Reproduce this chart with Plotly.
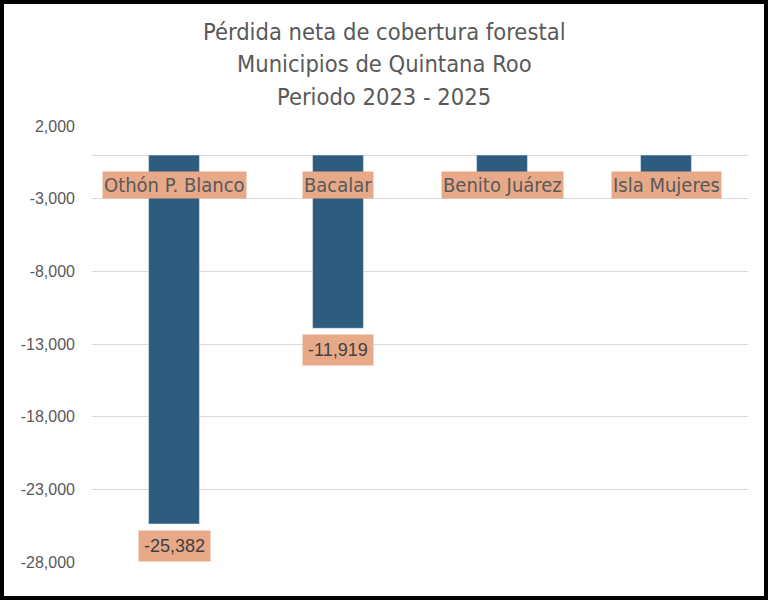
import plotly.graph_objects as go

categories = ["Othón P. Blanco", "Bacalar", "Benito Juárez", "Isla Mujeres"]
values = [-25382, -11919, -1600, -1400]
value_labels = ["-25,382", "-11,919", "", ""]
tick_vals = [2000, -3000, -8000, -13000, -18000, -23000, -28000]
tick_text = ["2,000", "-3,000", "-8,000", "-13,000", "-18,000", "-23,000", "-28,000"]
title_lines = ["Pérdida neta de cobertura forestal", "Municipios de Quintana Roo", "Periodo 2023 - 2025"]

BAR = "#2E5C7E"
SALMON = "#E8A988"
GREY = "#595959"
NARROW = "Liberation Sans Narrow, DejaVu Sans Condensed, Arial Narrow, sans-serif"

fig = go.Figure()
fig.add_trace(go.Bar(x=categories, y=values, marker_color=BAR, width=0.31,
                     hoverinfo="x+y"))

# category labels near zero line
for c in categories:
    fig.add_annotation(x=c, y=0, yref="y", text=c, showarrow=False,
                       yanchor="middle", yshift=-30,
                       font=dict(family=NARROW, size=20, color=GREY),
                       bgcolor=SALMON, borderpad=1)

# data labels below bar ends
for c, v, t in zip(categories, values, value_labels):
    if t:
        fig.add_annotation(x=c, y=v, yref="y", text=t, showarrow=False,
                           yanchor="top", yshift=-6,
                           font=dict(family="Liberation Sans, Arial, sans-serif", size=18, color="#404040"),
                           bgcolor=SALMON, borderpad=5)

W, H = 768, 600
ml, mr, mt, mb = 92, 20, 126, 38
pw, ph = W - ml - mr, H - mt - mb

# title lines
title_y_px = [32, 64, 97]
for line, ypx in zip(title_lines, title_y_px):
    fig.add_annotation(xref="paper", yref="paper", x=(W / 2 - ml) / pw,
                       y=(H - mb - ypx) / ph,
                       xanchor="center", yanchor="middle", showarrow=False,
                       text=line,
                       font=dict(family=NARROW, size=23.5, color=GREY))

fig.add_shape(type="rect", xref="paper", yref="paper",
              x0=(2 - ml) / pw, x1=(766 - ml) / pw,
              y0=(2 - mb) / ph, y1=(H - 2 - mb) / ph,
              line=dict(color="black", width=4), fillcolor="rgba(0,0,0,0)", layer="above")

fig.update_layout(
    width=W, height=H,
    margin=dict(l=ml, r=mr, t=mt, b=mb),
    paper_bgcolor="white", plot_bgcolor="white",
    showlegend=False,
    xaxis=dict(showticklabels=False, showgrid=False, showline=False, ticks=""),
    yaxis=dict(range=[-28000, 2000], tickvals=tick_vals, ticktext=tick_text,
               showgrid=True, gridcolor="#D9D9D9", gridwidth=1,
               zeroline=True, zerolinecolor="#D9D9D9", zerolinewidth=1,
               showline=False, ticks="", ticklabelstandoff=16,
               tickfont=dict(family="Liberation Sans, Arial, sans-serif", size=16, color=GREY)),
)

fig.write_html("out.html", config={"displayModeBar": False},
               post_script="document.body.style.margin='0';document.body.style.overflow='hidden';")
